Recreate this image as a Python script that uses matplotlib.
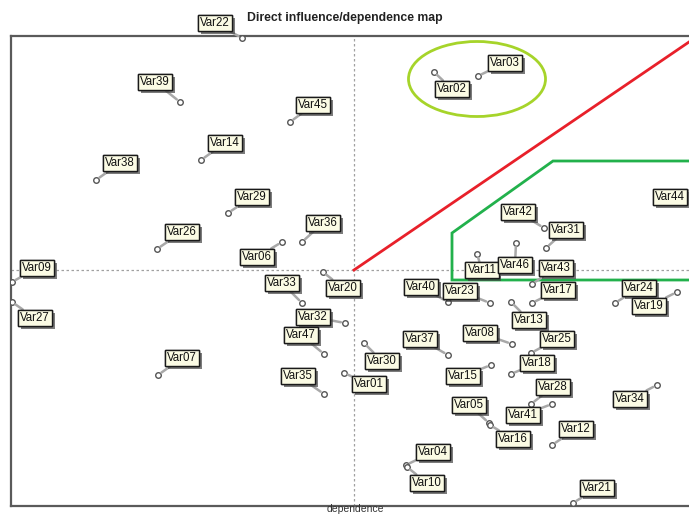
import matplotlib
matplotlib.use('Agg')
from matplotlib import pyplot as plt
from matplotlib import patheffects
from matplotlib.patches import Ellipse, Polygon

# Variables, dependence (x) and influence (y)
names = ['Var22', 'Var39', 'Var45', 'Var14', 'Var38', 'Var29', 'Var36', 'Var26', 'Var06',
         'Var09', 'Var27', 'Var07', 'Var33', 'Var20', 'Var32', 'Var47', 'Var35', 'Var30',
         'Var01', 'Var02', 'Var03', 'Var40', 'Var23', 'Var11', 'Var46', 'Var42', 'Var31',
         'Var43', 'Var44', 'Var17', 'Var13', 'Var24', 'Var19', 'Var08', 'Var25', 'Var18',
         'Var37', 'Var15', 'Var28', 'Var41', 'Var05', 'Var16', 'Var34', 'Var12', 'Var04',
         'Var10', 'Var21']
dependence = [231, 169, 279, 190, 85, 217, 291, 146, 271,
              1, 1, 147, 291, 312, 334, 313, 313, 353,
              333, 423, 467, 437, 479, 466, 505, 533, 535,
              521, 694, 521, 500, 604, 666, 501, 520, 500,
              437, 480, 520, 541, 478, 479, 646, 541, 395,
              396, 562]
influence = [468, 404, 384, 346, 326, 293, 264, 257, 264,
             224, 204, 131, 203, 234, 183, 152, 112, 163,
             133, 434, 430, 204, 203, 252, 263, 278, 258,
             222, 321, 203, 204, 203, 214, 162, 153, 132,
             151, 141, 102, 102, 83, 81, 121, 61, 41,
             39, 3]

# where each label sits relative to its point (pixels)
label_offsets = {
    'Var22': (-27, 15), 'Var39': (-25, 20), 'Var45': (23, 17), 'Var14': (24, 17),
    'Var38': (24, 17), 'Var29': (24, 16), 'Var36': (21, 19), 'Var26': (25, 17),
    'Var06': (-25, -15), 'Var09': (25, 14), 'Var27': (23, -16), 'Var07': (24, 17),
    'Var33': (-20, 20), 'Var20': (20, -16), 'Var32': (-32, 6), 'Var47': (-23, 19),
    'Var35': (-26, 18), 'Var30': (18, -18), 'Var01': (25, -11), 'Var02': (18, -17),
    'Var03': (27, 13), 'Var40': (-27, 15), 'Var23': (-30, 12), 'Var11': (5, -16),
    'Var46': (-1, -22), 'Var42': (-26, 16), 'Var31': (20, 18), 'Var43': (24, 16),
    'Var44': (-35, -12), 'Var17': (26, 13), 'Var13': (18, -18), 'Var24': (24, 15),
    'Var19': (-28, -14), 'Var08': (-32, 11), 'Var25': (26, 14), 'Var18': (26, 11),
    'Var37': (-28, 16), 'Var15': (-28, -11), 'Var28': (22, 17), 'Var41': (-29, -11),
    'Var05': (-20, 18), 'Var16': (23, -14), 'Var34': (-27, -14), 'Var12': (24, 16),
    'Var04': (27, 13), 'Var10': (20, -16), 'Var21': (24, 15),
}

x_mid, y_mid = 343, 236
x_max, y_max = 678, 470

plt.rcParams['font.family'] = ['Liberation Sans', 'DejaVu Sans']

fig = plt.figure(figsize=(6.89, 5.15), dpi=100)
ax = fig.add_axes([11 / 689, 9 / 515, 678 / 689, 470 / 515])
ax.set_xlim(0, x_max)
ax.set_ylim(0, y_max)
ax.set_xticks([])
ax.set_yticks([])
for side in ['left', 'top', 'bottom']:
    ax.spines[side].set_color('#5a5a5a')
    ax.spines[side].set_linewidth(1.6)
ax.spines['right'].set_visible(False)

# quadrant lines
ax.axvline(x_mid, color='#a0a0a0', linestyle=(0, (2, 2)), linewidth=0.9, zorder=1)
ax.axhline(y_mid, color='#a0a0a0', linestyle=(0, (2, 2)), linewidth=0.9, zorder=1)

# highlighted areas
ax.plot([x_mid, x_max], [y_mid, 464], color='#e8202a', linewidth=2, zorder=2)
ax.add_patch(Polygon([(x_max + 5, 226), (441, 226), (441, 273), (542, 345), (x_max + 5, 345)],
                     closed=False, fill=False, edgecolor='#22b14c', linewidth=2, zorder=2))
ax.add_patch(Ellipse((466, 427), 137, 75, fill=False, edgecolor='#a6d42a', linewidth=2, zorder=2))

ax.plot(dependence, influence, 'o', markersize=4, markerfacecolor='white',
        markeredgecolor='#555555', markeredgewidth=1, zorder=4, clip_on=True)

for name, x, y in zip(names, dependence, influence):
    ann = ax.annotate(name, (x, y), xytext=label_offsets[name], textcoords='offset pixels',
                      ha='center', va='center', fontsize=8.3, color='#111111', zorder=5,
                      annotation_clip=False,
                      bbox=dict(boxstyle='square,pad=0.18', facecolor='#fbfbe4',
                                edgecolor='#1a1a1a', linewidth=1),
                      arrowprops=dict(arrowstyle='-', color='#a8a8a8', linewidth=1.8,
                                      shrinkA=0, shrinkB=3))
    ann.get_bbox_patch().set_path_effects(
        [patheffects.withSimplePatchShadow(offset=(2, -2), shadow_rgbFace='#444444', alpha=0.7),
         patheffects.Normal()])

fig.text(345 / 689, 1 - 18 / 515, 'Direct influence/dependence map', ha='center', va='center',
         fontsize=8.8, fontweight='bold', color='#222222')
fig.text(355 / 689, 1 / 515, 'dependence', ha='center', va='bottom', fontsize=7.5, color='#333333')

plt.savefig('out.png', dpi=100)
plt.close()
